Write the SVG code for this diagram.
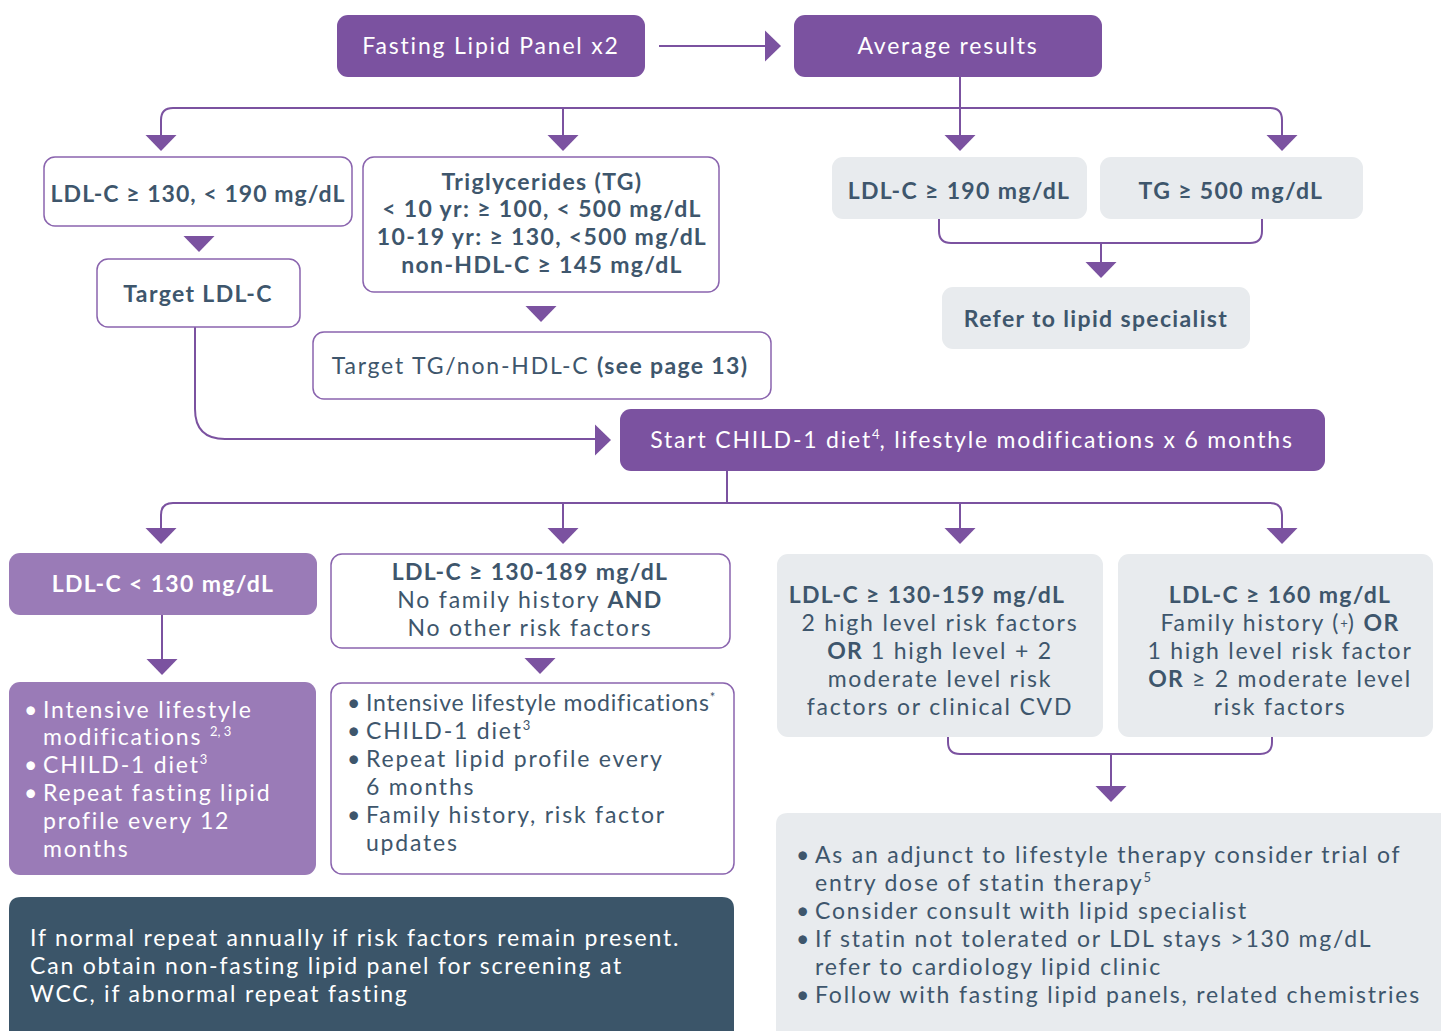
<svg xmlns="http://www.w3.org/2000/svg" xmlns:xlink="http://www.w3.org/1999/xlink" width="1441" height="1031" viewBox="0 0 1441 1031">
<style>
text{font-family:"Lato","Liberation Sans",sans-serif;font-size:23px;fill:#3E566C;letter-spacing:1.8px}
.w{fill:#ffffff}
.b{font-weight:bold;letter-spacing:1.35px}
.c{text-anchor:middle}
.dp{fill:#7B52A0}
.lp{fill:#9A7BB7}
.gr{fill:#E8EBEE}
.ol{fill:#ffffff;stroke:#8A64AE;stroke-width:1.5}
.dk{fill:#3B5569}
.ln{fill:none;stroke:#7B52A0;stroke-width:2}
.ah{fill:#7B52A0}
.sup{font-size:13px;letter-spacing:0}
</style>
<defs>
<path id="ad" d="M-15.5,-16 L15.5,-16 L0,0 Z"/>
<path id="ar" d="M-16,-15.5 L0,0 L-16,15.5 Z"/>
</defs>
<rect width="1441" height="1031" fill="#ffffff"/>

<g id="connectors">
<line class="ln" x1="659" y1="46" x2="767" y2="46"/>
<use href="#ar" class="ah" x="781" y="46"/>
<path class="ln" d="M960,77 V137"/>
<path class="ln" d="M161,137 V120 Q161,108 173,108 H1270 Q1282,108 1282,120 V137"/>
<path class="ln" d="M563,108 V137"/>
<use href="#ad" class="ah" x="161" y="151"/>
<use href="#ad" class="ah" x="563" y="151"/>
<use href="#ad" class="ah" x="960" y="151"/>
<use href="#ad" class="ah" x="1282" y="151"/>
<use href="#ad" class="ah" x="199" y="252"/>
<use href="#ad" class="ah" x="541" y="322"/>
<path class="ln" d="M939,219 V231 Q939,243 951,243 H1250 Q1262,243 1262,231 V219"/>
<path class="ln" d="M1101,243 V264"/>
<use href="#ad" class="ah" x="1101" y="278"/>
<path class="ln" d="M195,327 V409 Q195,439 225,439 H597"/>
<use href="#ar" class="ah" x="611" y="440"/>
<path class="ln" d="M727,471 V503"/>
<path class="ln" d="M161,530 V515 Q161,503 173,503 H1270 Q1282,503 1282,515 V530"/>
<path class="ln" d="M563,503 V530"/>
<path class="ln" d="M960,503 V530"/>
<use href="#ad" class="ah" x="161" y="544"/>
<use href="#ad" class="ah" x="563" y="544"/>
<use href="#ad" class="ah" x="960" y="544"/>
<use href="#ad" class="ah" x="1282" y="544"/>
<path class="ln" d="M162,615 V661"/>
<use href="#ad" class="ah" x="162" y="675"/>
<use href="#ad" class="ah" x="540" y="674"/>
<path class="ln" d="M948,737 V742 Q948,754 960,754 H1260 Q1272,754 1272,742 V737"/>
<path class="ln" d="M1111,754 V788"/>
<use href="#ad" class="ah" x="1111" y="802"/>
</g>

<g id="n-fasting">
<rect class="dp" x="337" y="15" width="308" height="62" rx="11"/>
<text class="w c" x="491" y="54">Fasting Lipid Panel x2</text>
</g>
<g id="n-average">
<rect class="dp" x="794" y="15" width="308" height="62" rx="11"/>
<text class="w c" x="948" y="54">Average results</text>
</g>

<g id="n-ldl130190">
<rect class="ol" x="44" y="157" width="308" height="69" rx="11"/>
<text class="b c" x="198" y="202" style="letter-spacing:1.05px">LDL-C ≥ 130, &lt; 190 mg/dL</text>
</g>
<g id="n-target-ldl">
<rect class="ol" x="97" y="259" width="203" height="68" rx="11"/>
<text class="b c" x="198" y="302">Target LDL-C</text>
</g>
<g id="n-trig">
<rect class="ol" x="363" y="157" width="356" height="135" rx="11"/>
<text class="b c" x="542" y="190">Triglycerides (TG)</text>
<text class="b c" x="542" y="217">&lt; 10 yr: ≥ 100, &lt; 500 mg/dL</text>
<text class="b c" x="542" y="245">10-19 yr: ≥ 130, &lt;500 mg/dL</text>
<text class="b c" x="542" y="273">non-HDL-C ≥ 145 mg/dL</text>
</g>
<g id="n-target-tg">
<rect class="ol" x="313" y="332" width="458" height="67" rx="11"/>
<text class="c" x="540" y="374">Target TG/non-HDL-C <tspan class="b">(see page 13)</tspan></text>
</g>
<g id="n-ldl190">
<rect class="gr" x="832" y="157" width="255" height="62" rx="11"/>
<text class="b c" x="959" y="199">LDL-C ≥ 190 mg/dL</text>
</g>
<g id="n-tg500">
<rect class="gr" x="1100" y="157" width="263" height="62" rx="11"/>
<text class="b c" x="1231" y="199">TG ≥ 500 mg/dL</text>
</g>
<g id="n-refer">
<rect class="gr" x="942" y="287" width="308" height="62" rx="11"/>
<text class="b c" x="1096" y="327">Refer to lipid specialist</text>
</g>

<g id="n-start">
<rect class="dp" x="620" y="409" width="705" height="62" rx="11"/>
<text class="w c" x="972" y="448">Start CHILD-1 diet<tspan class="sup" dy="-9">4</tspan><tspan dy="9">, lifestyle modifications x 6 months</tspan></text>
</g>

<g id="n-ldl-lt130">
<rect class="lp" x="9" y="553" width="308" height="62" rx="11"/>
<text class="w b c" x="163" y="592">LDL-C &lt; 130 mg/dL</text>
</g>
<g id="n-ldl130189">
<rect class="ol" x="331" y="554" width="399" height="94" rx="11"/>
<text class="b c" x="530" y="580">LDL-C ≥ 130-189 mg/dL</text>
<text class="c" x="530" y="608">No family history <tspan class="b">AND</tspan></text>
<text class="c" x="530" y="636">No other risk factors</text>
</g>
<g id="n-ldl130159">
<rect class="gr" x="777" y="554" width="326" height="183" rx="11"/>
<text class="b c" x="927" y="603">LDL-C ≥ 130-159 mg/dL</text>
<text class="c" x="940" y="631">2 high level risk factors</text>
<text class="c" x="940" y="659"><tspan class="b">OR</tspan> 1 high level + 2</text>
<text class="c" x="940" y="687">moderate level risk</text>
<text class="c" x="940" y="715">factors or clinical CVD</text>
</g>
<g id="n-ldl160">
<rect class="gr" x="1118" y="554" width="315" height="183" rx="11"/>
<text class="b c" x="1280" y="603">LDL-C ≥ 160 mg/dL</text>
<text class="c" x="1280" y="631">Family history (<tspan class="sup" dy="-3">+</tspan><tspan dy="3">) </tspan><tspan class="b">OR</tspan></text>
<text class="c" x="1280" y="659">1 high level risk factor</text>
<text class="c" x="1280" y="687"><tspan class="b">OR</tspan> ≥ 2 moderate level</text>
<text class="c" x="1280" y="715">risk factors</text>
</g>

<g id="n-lt130-actions">
<rect class="lp" x="9" y="682" width="307" height="193" rx="11"/>
<text class="w" x="24" y="718">•</text><text class="w" x="43" y="718">Intensive lifestyle</text>
<text class="w" x="43" y="745">modifications <tspan class="sup" dy="-9">2, 3</tspan></text>
<text class="w" x="24" y="773">•</text><text class="w" x="43" y="773">CHILD-1 diet<tspan class="sup" dy="-9">3</tspan></text>
<text class="w" x="24" y="801">•</text><text class="w" x="43" y="801">Repeat fasting lipid</text>
<text class="w" x="43" y="829">profile every 12</text>
<text class="w" x="43" y="857">months</text>
</g>
<g id="n-130189-actions">
<rect class="ol" x="331" y="683" width="403" height="191" rx="11"/>
<text x="347" y="711">•</text><text x="366" y="711" style="letter-spacing:0.8px">Intensive lifestyle modifications<tspan class="sup" dy="-9">*</tspan></text>
<text x="347" y="739">•</text><text x="366" y="739">CHILD-1 diet<tspan class="sup" dy="-9">3</tspan></text>
<text x="347" y="767">•</text><text x="366" y="767">Repeat lipid profile every</text>
<text x="366" y="795">6 months</text>
<text x="347" y="823">•</text><text x="366" y="823">Family history, risk factor</text>
<text x="366" y="851">updates</text>
</g>
<g id="n-note">
<path class="dk" d="M9,1031 V909 Q9,897 21,897 H722 Q734,897 734,909 V1031 Z"/>
<text class="w" x="30" y="946">If normal repeat annually if risk factors remain present.</text>
<text class="w" x="30" y="974">Can obtain non-fasting lipid panel for screening at</text>
<text class="w" x="30" y="1002">WCC, if abnormal repeat fasting</text>
</g>
<g id="n-statin">
<path class="gr" d="M776,1031 V825 Q776,813 788,813 H1441 V1031 Z"/>
<text x="796" y="863">•</text><text x="815" y="863">As an adjunct to lifestyle therapy consider trial of</text>
<text x="815" y="891">entry dose of statin therapy<tspan class="sup" dy="-9">5</tspan></text>
<text x="796" y="919">•</text><text x="815" y="919">Consider consult with lipid specialist</text>
<text x="796" y="947">•</text><text x="815" y="947">If statin not tolerated or LDL stays &gt;130 mg/dL</text>
<text x="815" y="975">refer to cardiology lipid clinic</text>
<text x="796" y="1003">•</text><text x="815" y="1003">Follow with fasting lipid panels, related chemistries</text>
</g>
</svg>
